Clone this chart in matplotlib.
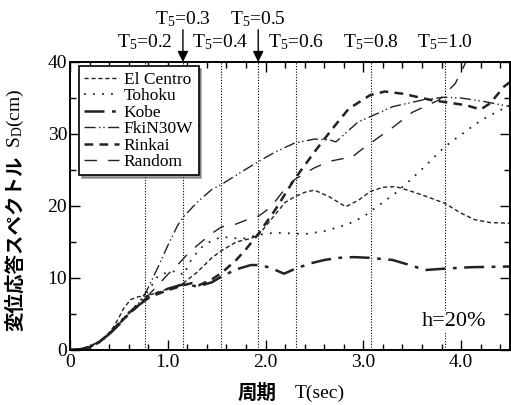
import matplotlib
matplotlib.use("Agg")
import matplotlib.pyplot as plt
from matplotlib.ticker import MultipleLocator, FuncFormatter

plt.rcParams['font.family'] = ['Liberation Serif', 'Noto Sans CJK JP']
plt.rcParams['mathtext.fontset'] = 'custom'
plt.rcParams['mathtext.rm'] = 'Liberation Serif'
plt.rcParams['mathtext.it'] = 'Liberation Serif'
plt.rcParams['mathtext.default'] = 'regular'

# ---------------- data ----------------
elcentro_T = [0, 0.1, 0.2, 0.3, 0.4, 0.45, 0.5, 0.55, 0.62, 0.7, 0.78, 0.9, 1.0, 1.1, 1.16, 1.3, 1.45, 1.55,
              1.7, 1.85, 1.93, 2.05, 2.2, 2.3, 2.4, 2.5, 2.65, 2.82, 2.95, 3.07, 3.2, 3.33, 3.5, 3.65, 3.83,
              4.0, 4.14, 4.3, 4.5]
elcentro_S = [0, 0.1, 0.5, 1.2, 2.4, 3.3, 4.5, 5.8, 7.0, 7.4, 7.5, 8.0, 8.5, 8.9, 9.3, 10.8, 12.8, 13.8,
              15.0, 15.5, 16.0, 18.0, 20.5, 21.3, 21.9, 22.2, 21.3, 19.9, 20.8, 22.0, 22.6, 22.7, 22.0, 21.3, 20.4,
              19.0, 18.1, 17.7, 17.6]

tohoku_T = [0, 0.1, 0.2, 0.3, 0.4, 0.5, 0.6, 0.7, 0.78, 0.9, 1.0, 1.1, 1.16, 1.25, 1.35, 1.45, 1.55, 1.65,
            1.75, 1.93, 2.1, 2.25, 2.4, 2.6, 2.83, 3.0, 3.15, 3.33, 3.48, 3.63, 3.83, 4.0, 4.15, 4.27, 4.4, 4.5]
tohoku_S = [0, 0.1, 0.4, 1.0, 2.2, 3.8, 5.2, 6.5, 7.8, 10.3, 10.8, 11.0, 10.4, 12.8, 14.3, 15.2, 15.7, 15.6,
            15.4, 16.0, 16.3, 16.2, 16.1, 16.5, 17.4, 18.5, 20.0, 21.8, 23.6, 25.5, 28.2, 29.9, 31.4, 32.4, 33.3, 34.0]

kobe_T = [0, 0.1, 0.2, 0.3, 0.4, 0.5, 0.6, 0.7, 0.78, 0.9, 1.0, 1.1, 1.18, 1.3, 1.45, 1.55, 1.7, 1.85, 1.95,
          2.05, 2.19, 2.29, 2.45, 2.6, 2.75, 2.9, 3.07, 3.3, 3.5, 3.63, 3.83, 4.1, 4.5]
kobe_S = [0, 0.1, 0.4, 1.1, 2.2, 3.5, 5.0, 6.2, 7.0, 8.0, 8.5, 8.9, 9.2, 8.8, 9.4, 10.2, 11.2, 11.8, 11.8,
          11.4, 10.6, 11.2, 12.0, 12.5, 12.8, 12.9, 12.8, 12.5, 11.7, 11.1, 11.3, 11.5, 11.6]

fki_T = [0, 0.1, 0.2, 0.3, 0.4, 0.5, 0.6, 0.7, 0.78, 0.9, 1.0, 1.1, 1.16, 1.3, 1.45, 1.55, 1.75, 1.93, 2.1,
         2.29, 2.5, 2.65, 2.72, 2.85, 2.95, 3.07, 3.3, 3.5, 3.63, 3.83, 4.0, 4.24, 4.5]
fki_S = [0, 0.1, 0.4, 1.2, 2.3, 3.8, 5.2, 6.5, 8.1, 11.5, 14.5, 17.3, 18.5, 20.5, 22.3, 23.0, 24.7, 26.2, 27.5,
         28.7, 29.3, 29.2, 28.9, 30.5, 31.7, 32.4, 33.8, 34.4, 34.8, 35.1, 35.0, 34.5, 33.8]

rinkai_T = [0, 0.1, 0.2, 0.3, 0.4, 0.5, 0.6, 0.7, 0.78, 0.9, 1.0, 1.16, 1.25, 1.32, 1.45, 1.55, 1.7, 1.8, 1.93,
            2.1, 2.29, 2.5, 2.67, 2.85, 3.07, 3.22, 3.4, 3.7, 3.9, 4.05, 4.2, 4.3, 4.44, 4.5]
rinkai_S = [0, 0.1, 0.4, 1.1, 2.2, 3.6, 5.0, 6.2, 7.2, 7.8, 8.3, 9.0, 9.3, 9.0, 9.8, 10.7, 12.5, 14.0, 16.2,
            19.5, 23.6, 27.5, 30.5, 33.5, 35.4, 35.9, 35.6, 34.7, 34.3, 34.0, 33.4, 34.3, 36.6, 37.2]

random_T = [0, 0.1, 0.2, 0.3, 0.4, 0.5, 0.6, 0.7, 0.78, 0.9, 1.0, 1.1, 1.18, 1.3, 1.43, 1.55, 1.7, 1.85, 1.93,
            2.05, 2.2, 2.3, 2.4, 2.5, 2.65, 2.8, 2.87, 2.95, 3.07, 3.29, 3.5, 3.77, 3.94, 4.05, 4.15]
random_S = [0, 0.1, 0.5, 1.2, 2.3, 3.6, 5.0, 6.3, 7.3, 9.0, 10.5, 11.8, 13.0, 14.5, 16.0, 17.1, 17.5, 18.3, 18.6,
            19.8, 22.4, 23.7, 24.5, 25.3, 26.2, 26.6, 26.6, 27.5, 28.7, 30.8, 33.0, 34.7, 37.0, 40.0, 42.5]

t5_values = [0.2, 0.3, 0.4, 0.5, 0.6, 0.8, 1.0]
t5_periods = [0.77, 1.155, 1.54, 1.925, 2.31, 3.075, 3.84]
t5_arrow = [False, True, False, True, False, False, False]

# ---------------- figure ----------------
fig = plt.figure(figsize=(5.11, 4.05), dpi=100)
ax = fig.add_axes([70/511, 1-350/405, 1-70/511-0.002, 288/405])

col = '#222222'
series = [
    (elcentro_T, elcentro_S, 'El Centro', dict(lw=1.0, dashes=(3, 2))),
    (tohoku_T, tohoku_S, 'Tohoku', dict(lw=1.3, dashes=(1, 4))),
    (kobe_T, kobe_S, 'Kobe', dict(lw=1.8, dashes=(8, 3, 1.5, 3))),
    (fki_T, fki_S, 'FkiN30W', dict(lw=1.0, dashes=(8, 2.5, 1, 2, 1, 2.5))),
    (rinkai_T, rinkai_S, 'Rinkai', dict(lw=1.8, dashes=(3.5, 2.5))),
    (random_T, random_S, 'Random', dict(lw=1.0, dashes=(9, 8))),
]
for T, S, lab, st in series:
    ax.plot(T, S, color=col, label=lab, **st)

for tp in t5_periods:
    ax.axvline(tp, color='k', lw=0.8, ls=(0, (1, 1.5)), zorder=1)

ax.set_xlim(0, 4.5)
ax.set_ylim(0, 40)
ax.xaxis.set_major_locator(MultipleLocator(1.0))
ax.xaxis.set_minor_locator(MultipleLocator(0.2))
ax.yaxis.set_major_locator(MultipleLocator(10))
ax.yaxis.set_minor_locator(MultipleLocator(5))
ax.xaxis.set_major_formatter(FuncFormatter(lambda v, p: '0' if v == 0 else f'{v:.1f}'))
ax.tick_params(which='both', direction='in', top=True, right=True, labelsize=14, width=1.0)
ax.tick_params(which='major', length=7)
ax.tick_params(which='minor', length=4)
ax.tick_params(axis='y', pad=2)
ax.tick_params(axis='x', pad=3)
for sp in ax.spines.values():
    sp.set_linewidth(1.4)

# T5 labels
tr = ax.get_xaxis_transform()
for v, tp, arr in zip(t5_values, t5_periods, t5_arrow):
    y = 1.149 if arr else 1.069
    ax.text(tp, y, f'T$_5$={v:.1f}', transform=tr, ha='center', va='center', fontsize=14, clip_on=False)
    if arr:
        ax.annotate('', xy=(tp, 1.0), xycoords=tr, xytext=(tp, 1.112), textcoords=tr,
                    arrowprops=dict(arrowstyle='-|>', color='k', lw=1.0, mutation_scale=16,
                                    shrinkA=0, shrinkB=0))

ax.text(3.93, 3.9, 'h=20%', fontsize=16, ha='center', va='center',
        bbox=dict(facecolor='white', edgecolor='none', pad=1))

leg = ax.legend(loc='upper left', bbox_to_anchor=(0.02, 0.985), fontsize=12.5, frameon=True, shadow=True,
                fancybox=False, handlelength=2.0, handletextpad=0.3, labelspacing=0.02,
                borderpad=0.3, borderaxespad=0)
leg.get_frame().set_edgecolor('k')
leg.get_frame().set_linewidth(1.2)

fig.text(15/511, 1-243/405, '変位応答スペクトル', rotation=90, ha='center', va='center',
         fontsize=14, family='Noto Sans CJK JP', weight='bold')
fig.text(15/511, 1-118/405, 'S$_D$(cm)', rotation=90, ha='center', va='center', fontsize=14)
fig.text(257/511, 1-393/405, '周期', ha='center', va='center', fontsize=14,
         family='Noto Sans CJK JP', weight='bold')
fig.text(320/511, 1-393/405, 'T(sec)', ha='center', va='center', fontsize=14)

fig.savefig('out.png', dpi=100)
